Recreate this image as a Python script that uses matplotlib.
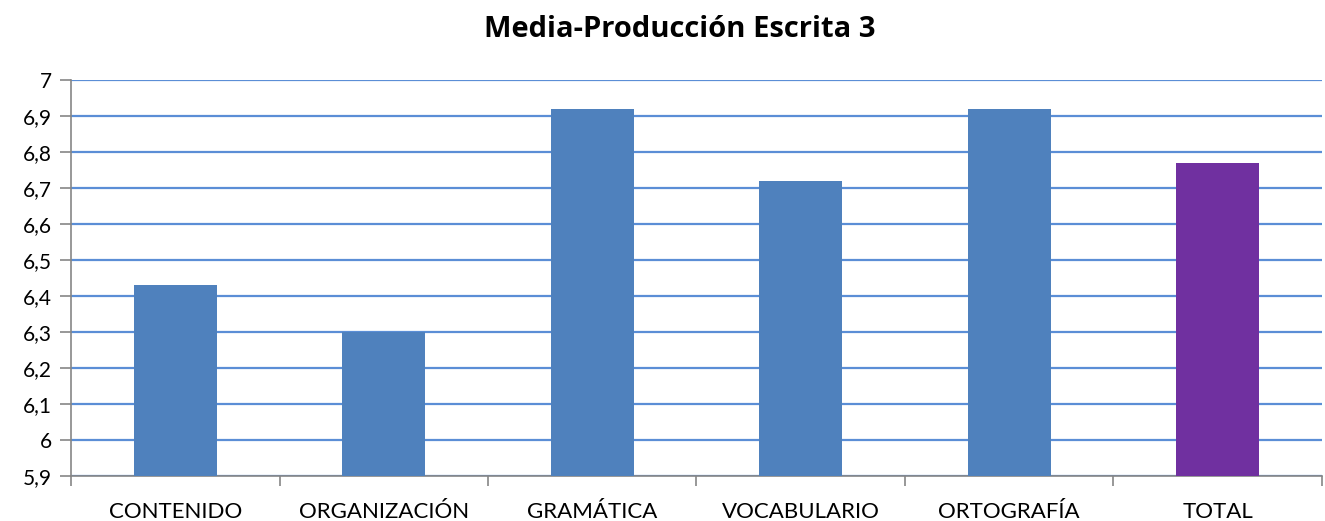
import matplotlib.pyplot as plt
import numpy as np

# ── Data ──────────────────────────────────────────────────────────────────────
categories = ["CONTENIDO", "ORGANIZACIÓN", "GRAMÁTICA", "VOCABULARIO", "ORTOGRAFÍA", "TOTAL"]
values = [6.43, 6.30, 6.92, 6.72, 6.92, 6.77]
bar_colors = ["#4F81BD"] * 5 + ["#7030A0"]
y_ticks = [5.9, 6.0, 6.1, 6.2, 6.3, 6.4, 6.5, 6.6, 6.7, 6.8, 6.9, 7.0]
y_labels = ["5,9", "6", "6,1", "6,2", "6,3", "6,4", "6,5", "6,6", "6,7", "6,8", "6,9", "7"]

plt.rcParams["font.family"] = ["Lato", "DejaVu Sans"]

fig = plt.figure(figsize=(13.25, 5.21), dpi=100)
ax = fig.add_axes([0.0536, 0.0864, 0.9441, 0.76])

x = np.arange(len(categories))
ax.bar(x, values, width=0.4, bottom=0, color=bar_colors, zorder=3)

ax.set_ylim(5.9, 7.0)
ax.set_xlim(-0.5, len(categories) - 0.5)
ax.set_yticks(y_ticks)
ax.set_yticklabels(y_labels, fontsize=15)
ax.set_xticks(x)
ax.set_xticklabels(categories, fontsize=16)

# category separators as minor ticks
ax.set_xticks(np.arange(-0.5, len(categories) + 0.5, 1.0), minor=True)
ax.tick_params(axis="x", which="major", length=0, pad=19)
ax.tick_params(axis="x", which="minor", length=7, color="#868686", width=1.2, direction="out")
ax.tick_params(axis="y", length=8, color="#868686", width=1.2, pad=6)

ax.grid(axis="y", color="#5B8ED6", lw=1.6, zorder=1)
ax.set_axisbelow(True)

for side in ["top", "right"]:
    ax.spines[side].set_visible(False)
for side in ["left", "bottom"]:
    ax.spines[side].set_color("#868686")
    ax.spines[side].set_linewidth(1.2)

fig.text(0.513, 0.943, "Media-Producción Escrita 3", fontsize=21, fontweight="bold",
         family=["Open Sans", "DejaVu Sans"], ha="center", va="center")

fig.savefig("out.png", dpi=100)
